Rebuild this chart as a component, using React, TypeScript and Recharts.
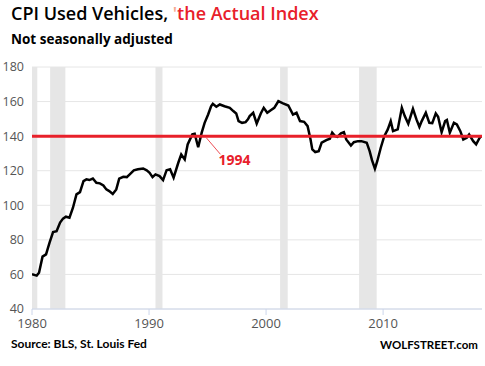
import React from "react";
import {
  LineChart,
  Line,
  XAxis,
  YAxis,
  CartesianGrid,
  ReferenceArea,
  ReferenceLine,
  ReferenceDot,
} from "recharts";

// Used vehicles CPI (not seasonally adjusted)
const years = [
  1980.0, 1980.4, 1980.6, 1980.9, 1981.2, 1981.5, 1981.8, 1982.1, 1982.4, 1982.65,
  1982.9, 1983.2, 1983.5, 1983.8, 1984.1, 1984.4, 1984.65, 1984.9, 1985.2, 1985.5,
  1985.8, 1986.1, 1986.35, 1986.6, 1986.9, 1987.2, 1987.45, 1987.8, 1988.1, 1988.35,
  1988.7, 1989.05, 1989.5, 1989.8, 1990.05, 1990.3, 1990.55, 1990.9, 1991.2, 1991.5,
  1991.8, 1992.1, 1992.5, 1992.75, 1993.05, 1993.3, 1993.7, 1993.9, 1994.2, 1994.5,
  1994.75, 1995.05, 1995.3, 1995.45, 1995.75, 1996.05, 1996.45, 1996.9, 1997.2, 1997.45,
  1997.65, 1997.95, 1998.25, 1998.45, 1998.6, 1998.9, 1999.2, 1999.55, 1999.8, 2000.1,
  2000.4, 2000.7, 2001.05, 2001.45, 2001.9, 2002.3, 2002.6, 2002.9, 2003.25, 2003.55,
  2003.8, 2003.95, 2004.2, 2004.5, 2004.75, 2005.15, 2005.45, 2005.65, 2005.9, 2006.1,
  2006.4, 2006.65, 2006.85, 2007.25, 2007.5, 2007.85, 2008.15, 2008.6, 2008.85, 2009.05,
  2009.3, 2009.5, 2009.8, 2010.1, 2010.4, 2010.65, 2010.85, 2011.25, 2011.6, 2011.85,
  2012.15, 2012.55, 2012.85, 2013.1, 2013.3, 2013.65, 2013.95, 2014.2, 2014.5, 2014.7,
  2015.0, 2015.3, 2015.45, 2015.7, 2016.05, 2016.3, 2016.6, 2016.85, 2017.15, 2017.35,
  2017.7, 2017.95, 2018.25, 2018.4,
];

const cpiUsedVehicles = [
  60.1, 59.3, 61, 70.3, 71.6, 78.4, 84.5, 85, 90, 92.3,
  93.4, 92.8, 98.6, 106.3, 107.6, 114, 115, 114.6, 115.5, 113,
  112.7, 111.5, 109.2, 108.2, 106.5, 109.2, 115.4, 116.5, 116.3, 117.9,
  120.2, 120.8, 121.3, 120.2, 118.8, 116.3, 117.9, 116.9, 114.6, 120.3,
  120.8, 116, 124.6, 129.4, 126.5, 135.2, 141, 141.4, 133.6, 142,
  147.7, 152.5, 157.3, 158.7, 157, 158.3, 157.3, 156.4, 154.5, 153.1,
  148.7, 147.7, 148.1, 149.7, 151.6, 153.5, 147.3, 153.1, 156.4, 153.5,
  155, 156.4, 160.2, 158.9, 157.7, 152.5, 153.5, 148.7, 148.3, 145.8,
  138.1, 132.3, 130.8, 131.3, 136.2, 137.7, 138.5, 142, 140, 139.6,
  141.6, 142.3, 138.1, 134.6, 136.5, 137.1, 137.1, 136.2, 131.3, 126.1,
  121.2, 125.5, 133.3, 140, 143.9, 148.7, 142.9, 143.9, 156.4, 151.6,
  147.2, 155.8, 149.7, 145.4, 148.7, 153.5, 147.7, 147.5, 153.1, 151.2,
  142.3, 148.7, 149.3, 142, 147.7, 146.8, 142.9, 138.1, 139.1, 141,
  137.1, 135.2, 139.1, 140,
];

// recessions (shaded bands)
const recessionStarts = [1980.0, 1981.55, 1990.55, 2001.2, 2007.95];
const recessionEnds = [1980.45, 1982.85, 1991.15, 2001.85, 2009.45];

const xTicks = [1980, 1990, 2000, 2010];
const yTicks = [40, 60, 80, 100, 120, 140, 160, 180];
const referenceLevel = 140;
const annotationLabel = "1994";

const data = years.map((year, i) => ({ year, cpi: cpiUsedVehicles[i] }));

const FONT = "'Open Sans', 'Noto Sans', sans-serif";
const NARROW = "Lato, 'Open Sans', sans-serif";
const RED = "#e8202a";

export default function App() {
  return (
    <div
      style={{
        position: "absolute",
        left: 0,
        top: 0,
        width: 485,
        height: 366,
        background: "#fff",
        fontFamily: FONT,
      }}
    >
      <div
        style={{
          position: "absolute",
          left: 11,
          top: 1,
          fontSize: 18,
          fontWeight: 600,
          whiteSpace: "nowrap",
          color: "#000",
        }}
      >
        CPI Used Vehicles, <span style={{ color: "#f7a88f" }}>'</span>
        <span style={{ color: RED }}>the Actual Index</span>
      </div>
      <div
        style={{
          position: "absolute",
          left: 11,
          top: 30,
          fontSize: 13.5,
          fontWeight: 700,
          whiteSpace: "nowrap",
          color: "#000",
        }}
      >
        Not seasonally adjusted
      </div>

      <LineChart
        width={485}
        height={366}
        data={data}
        margin={{ top: 67, right: 3, left: 0, bottom: 27 }}
      >
        <CartesianGrid vertical={false} stroke="#e6e6e6" />
        {recessionStarts.map((start, i) => (
          <ReferenceArea
            key={start}
            x1={start}
            x2={recessionEnds[i]}
            y1={40}
            y2={180}
            fill="#e6e6e6"
            fillOpacity={1}
            stroke="none"
          />
        ))}
        <XAxis
          dataKey="year"
          type="number"
          domain={[1980, 2018.45]}
          ticks={xTicks}
          allowDataOverflow
          stroke="#ccd6eb"
          tickSize={6}
          tickMargin={4}
          tick={{ fill: "#555", fontSize: 13, fontFamily: FONT }}
          height={30}
        />
        <YAxis
          domain={[40, 180]}
          ticks={yTicks}
          axisLine={false}
          tickLine={false}
          width={32}
          tick={{ fill: "#555", fontSize: 12.5, fontFamily: FONT }}
        />
        <Line
          type="linear"
          dataKey="cpi"
          stroke="#000"
          strokeWidth={2.5}
          dot={false}
          isAnimationActive={false}
        />
        <ReferenceLine y={referenceLevel} stroke={RED} strokeWidth={3} />
        <ReferenceLine
          segment={[
            { x: 1994.9, y: 139 },
            { x: 1996.1, y: 129.5 },
          ]}
          stroke={RED}
          strokeWidth={0.8}
        />
        <ReferenceDot
          x={1997.3}
          y={126}
          r={0}
          fill="none"
          stroke="none"
          label={{
            value: annotationLabel,
            position: "center",
            fill: RED,
            fontSize: 14,
            fontWeight: 700,
            fontFamily: FONT,
          }}
        />
      </LineChart>

      <div
        style={{
          position: "absolute",
          left: 11,
          top: 336,
          fontSize: 12,
          fontWeight: 700,
          fontFamily: NARROW,
          whiteSpace: "nowrap",
          color: "#000",
        }}
      >
        Source: BLS, St. Louis Fed
      </div>
      <div
        style={{
          position: "absolute",
          right: 7,
          top: 338,
          fontSize: 11.5,
          fontWeight: 700,
          fontFamily: NARROW,
          whiteSpace: "nowrap",
          color: "#000",
        }}
      >
        WOLFSTREET.com
      </div>
    </div>
  );
}
